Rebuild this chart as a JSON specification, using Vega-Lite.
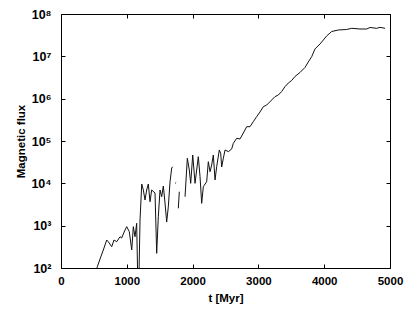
{
  "$schema": "https://vega.github.io/schema/vega-lite/v6.json",
  "width": 329,
  "height": 254,
  "autosize": "none",
  "padding": {"left": 61, "top": 14, "right": 25, "bottom": 44},
  "background": "white",
  "config": {
    "view": {"stroke": "#000", "strokeWidth": 1},
    "axis": {
      "grid": false,
      "domain": false,
      "labelFlush": false,
      "tickColor": "#000",
      "tickSize": -4,
      "tickWidth": 1,
      "labelFont": "Liberation Sans",
      "labelFontWeight": "bold",
      "labelFontSize": 11.5,
      "labelColor": "#000",
      "titleFont": "Liberation Sans",
      "titleFontWeight": "bold",
      "titleFontSize": 11.5,
      "titleColor": "#000"
    }
  },
  "data": {
    "values": [
      {"t": 517, "flux": 68},
      {"t": 552, "flux": 107},
      {"t": 593, "flux": 163},
      {"t": 643, "flux": 266},
      {"t": 695, "flux": 458},
      {"t": 719, "flux": 418},
      {"t": 771, "flux": 318},
      {"t": 805, "flux": 458},
      {"t": 847, "flux": 418},
      {"t": 897, "flux": 548},
      {"t": 922, "flux": 511},
      {"t": 973, "flux": 790},
      {"t": 999, "flux": 946},
      {"t": 1038, "flux": 721},
      {"t": 1075, "flux": 266},
      {"t": 1099, "flux": 946},
      {"t": 1125, "flux": 548},
      {"t": 1150, "flux": 1137},
      {"t": 1175, "flux": 10},
      {"t": 1201, "flux": 1361},
      {"t": 1227, "flux": 9640},
      {"t": 1251, "flux": 6960},
      {"t": 1277, "flux": 4040},
      {"t": 1302, "flux": 6960},
      {"t": 1327, "flux": 9640},
      {"t": 1353, "flux": 3680},
      {"t": 1378, "flux": 6960},
      {"t": 1429, "flux": 5920},
      {"t": 1454, "flux": 222},
      {"t": 1479, "flux": 1630},
      {"t": 1505, "flux": 6960},
      {"t": 1530, "flux": 4830},
      {"t": 1555, "flux": 8650},
      {"t": 1581, "flux": 3430},
      {"t": 1606, "flux": 1222},
      {"t": 1631, "flux": 2800},
      {"t": 1657, "flux": 10760},
      {"t": 1682, "flux": 23000},
      {"t": 1698, "flux": 24700},
      {"t": 1720, "flux": null},
      {"t": 1735, "flux": 10000},
      {"t": 1750, "flux": 10500},
      {"t": 1765, "flux": null},
      {"t": 1783, "flux": 2570},
      {"t": 1798, "flux": 6340},
      {"t": 1820, "flux": null},
      {"t": 1885, "flux": 4830},
      {"t": 1920, "flux": 39100},
      {"t": 1950, "flux": 20650},
      {"t": 1971, "flux": 10000},
      {"t": 2002, "flux": 46700},
      {"t": 2037, "flux": 10000},
      {"t": 2087, "flux": 42600},
      {"t": 2113, "flux": 14350},
      {"t": 2138, "flux": 3370},
      {"t": 2163, "flux": 8340},
      {"t": 2214, "flux": 10940},
      {"t": 2239, "flux": 32400},
      {"t": 2265, "flux": 18840},
      {"t": 2290, "flux": 27100},
      {"t": 2315, "flux": 46700},
      {"t": 2341, "flux": 12000},
      {"t": 2366, "flux": 24700},
      {"t": 2406, "flux": 61400},
      {"t": 2427, "flux": 51300},
      {"t": 2442, "flux": 24300},
      {"t": 2467, "flux": 39100},
      {"t": 2493, "flux": 61400},
      {"t": 2543, "flux": 56000},
      {"t": 2594, "flux": 64800},
      {"t": 2619, "flux": 88300},
      {"t": 2670, "flux": 115900},
      {"t": 2720, "flux": 111500},
      {"t": 2771, "flux": 154500},
      {"t": 2822, "flux": 217800},
      {"t": 2872, "flux": 217800},
      {"t": 2922, "flux": 285800},
      {"t": 2973, "flux": 375000},
      {"t": 3024, "flux": 484000},
      {"t": 3075, "flux": 647000},
      {"t": 3126, "flux": 709000},
      {"t": 3202, "flux": 931000},
      {"t": 3252, "flux": 1115000},
      {"t": 3303, "flux": 1222000},
      {"t": 3354, "flux": 1479000},
      {"t": 3404, "flux": 1920000},
      {"t": 3455, "flux": 2344000},
      {"t": 3506, "flux": 2690000},
      {"t": 3556, "flux": 3340000},
      {"t": 3632, "flux": 4160000},
      {"t": 3708, "flux": 5460000},
      {"t": 3758, "flux": 7360000},
      {"t": 3810, "flux": 9820000},
      {"t": 3860, "flux": 14930000},
      {"t": 3936, "flux": 19600000},
      {"t": 3987, "flux": 24300000},
      {"t": 4038, "flux": 30300000},
      {"t": 4114, "flux": 38600000},
      {"t": 4215, "flux": 41900000},
      {"t": 4342, "flux": 43100000},
      {"t": 4418, "flux": 45900000},
      {"t": 4544, "flux": 44200000},
      {"t": 4646, "flux": 44200000},
      {"t": 4696, "flux": 48000000},
      {"t": 4798, "flux": 45900000},
      {"t": 4848, "flux": 48500000},
      {"t": 4924, "flux": 45900000}
    ]
  },
  "layer": [
    {
      "mark": {"type": "line", "color": "#111", "strokeWidth": 1, "clip": true, "invalid": "break-paths-show-domains"},
      "encoding": {
        "x": {
          "field": "t", "type": "quantitative",
          "scale": {"domain": [0, 5000], "nice": false, "zero": false},
          "axis": {"orient": "bottom", "values": [0, 1000, 2000, 3000, 4000, 5000], "format": "d", "title": "t [Myr]", "labelPadding": 11, "titlePadding": 6}
        },
        "y": {
          "field": "flux", "type": "quantitative",
          "scale": {"type": "log", "domain": [100, 100000000], "nice": false},
          "axis": {
            "orient": "left",
            "values": [100, 1000, 10000, 100000, 1000000, 10000000, 100000000],
            "labelExpr": "'10' + ['⁰','¹','²','³','⁴','⁵','⁶','⁷','⁸'][round(log(datum.value)/LN10)]",
            "labelFontSize": 12.5,
            "title": "Magnetic flux",
            "labelPadding": 14,
            "titlePadding": 4
          }
        }
      }
    },
    {
      "mark": {"type": "line", "strokeOpacity": 0, "clip": true},
      "encoding": {
        "x": {
          "field": "t", "type": "quantitative",
          "axis": {"orient": "top", "values": [0, 1000, 2000, 3000, 4000, 5000], "labels": false, "title": null}
        },
        "y": {
          "field": "flux", "type": "quantitative",
          "axis": {"orient": "right", "values": [100, 1000, 10000, 100000, 1000000, 10000000, 100000000], "labels": false, "title": null}
        }
      }
    }
  ],
  "resolve": {"axis": {"x": "independent", "y": "independent"}}
}
